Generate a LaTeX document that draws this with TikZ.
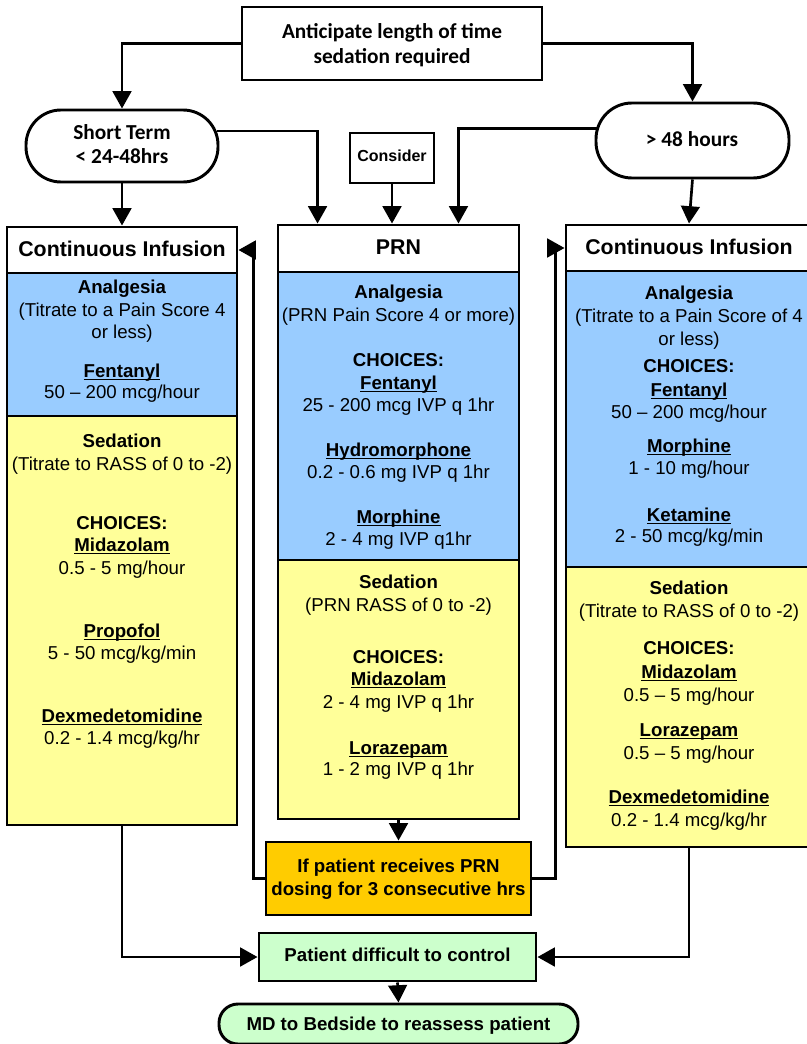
\documentclass[tikz,border=0pt]{standalone}
\usepackage{fontspec}
\setmainfont{Liberation Sans}
\newfontfamily\calib{Carlito}
\usetikzlibrary{arrows.meta,calc}
\newdimen\pxu \pxu=0.75pt
\newcommand\drug[1]{\setbox0\hbox{\textbf{#1}}\rlap{\rule[-2.3pt]{\wd0}{1.1pt}}\box0}
\definecolor{cblue}{HTML}{99CCFF}
\definecolor{cyel}{HTML}{FFFF99}
\definecolor{corg}{HTML}{FFCC00}
\definecolor{cgrn}{HTML}{CCFFCC}
\begin{document}
\begin{tikzpicture}[x=0.75pt,y=-0.75pt,
  box/.style={draw,line width=2.2pt,inner sep=0pt,anchor=center},
  arr/.style={line width=2pt,-{Triangle[length=13pt,width=14pt]}},
  tx/.style={inner sep=0pt,anchor=base,font=\fontsize{14}{16}\selectfont},
  ttl/.style={inner sep=0pt,anchor=base,font=\fontsize{16}{19}\selectfont\bfseries},
  cb/.style={inner sep=0pt,anchor=base,font=\fontsize{16}{19}\selectfont\calib\bfseries}]
\useasboundingbox (0,0) rectangle (806,1044);
% top level boxes
\node[box,minimum width=300\pxu,minimum height=73\pxu] (top) at (392,43.5) {};
\node[box,rounded corners=35\pxu,minimum width=192\pxu,minimum height=72\pxu] (st) at (122,146) {};
\node[box,rounded corners=36\pxu,minimum width=193\pxu,minimum height=75\pxu] (lh) at (692.5,140.5) {};
\node[box,minimum width=84\pxu,minimum height=50\pxu] (cons) at (392,158) {};
% left continuous infusion
\node[box,fill=cyel,minimum width=230\pxu,minimum height=409\pxu] (ciLY) at (122,620.5) {};
\node[box,fill=cblue,minimum width=230\pxu,minimum height=143\pxu] (ciLB) at (122,344.5) {};
\node[box,fill=white,minimum width=230\pxu,minimum height=46\pxu] (ciLT) at (122,250) {};
% PRN
\node[box,fill=cyel,minimum width=241\pxu,minimum height=259\pxu] (prnY) at (398.5,689.5) {};
\node[box,fill=cblue,minimum width=241\pxu,minimum height=288\pxu] (prnB) at (398.5,416) {};
\node[box,fill=white,minimum width=241\pxu,minimum height=47\pxu] (prnT) at (398.5,248.5) {};
% right continuous infusion
\node[box,fill=cyel,minimum width=246\pxu,minimum height=280\pxu] (ciRY) at (689,707) {};
\node[box,fill=cblue,minimum width=246\pxu,minimum height=296\pxu] (ciRB) at (689,419) {};
\node[box,fill=white,minimum width=246\pxu,minimum height=46\pxu] (ciRT) at (689,248) {};
% lower boxes
\node[box,fill=corg,minimum width=265\pxu,minimum height=73\pxu] (orng) at (398.5,878.5) {};
\node[box,fill=cgrn,minimum width=277\pxu,minimum height=48\pxu] (grn) at (397.5,957) {};
\node[box,fill=cgrn,rounded corners=19\pxu,minimum width=359\pxu,minimum height=40\pxu] (fin) at (398.5,1024) {};
% texts of top level
\node[cb] (t1) at (392,39) {Anticipate length of time};
\node[cb] (t2) at (392,64) {sedation required};
\node[cb] (s1) at (122,140) {Short Term};
\node[cb] (s2) at (122,164) {< 24-48hrs};
\node[cb] (h1) at (692,147) {> 48 hours};
\node[inner sep=0pt,anchor=base,font=\fontsize{12}{14}\selectfont\bfseries] (c1) at (392,162) {Consider};
% titles
\node[ttl] (ttlL) at (122,257) {Continuous Infusion};
\node[ttl] (ttlP) at (398.5,255) {PRN};
\node[ttl] (ttlR) at (689,255) {Continuous Infusion};
% left box text
\foreach \y/\t [count=\i] in {288/{\textbf{Analgesia}},311/{(Titrate to a Pain Score 4},333/{or less)},371/{\drug{Fentanyl}},392/{50 – 200 mcg/hour},441/{\textbf{Sedation}},464/{(Titrate to RASS of 0 to -2)},523/{\textbf{CHOICES:}},545/{\drug{Midazolam}},568/{0.5 - 5 mg/hour},631/{\drug{Propofol}},653/{5 - 50 mcg/kg/min},716/{\drug{Dexmedetomidine}},738/{0.2 - 1.4 mcg/kg/hr}}
  \node[tx] (L\i) at (122,\y+6) {\t};
% PRN text
\foreach \y/\t [count=\i] in {293/{\textbf{Analgesia}},316/{(PRN Pain Score 4 or more)},360/{\textbf{CHOICES:}},383/{\drug{Fentanyl}},405/{25 - 200 mcg IVP q 1hr},450/{\drug{Hydromorphone}},472/{0.2 - 0.6 mg IVP q 1hr},517/{\drug{Morphine}},539/{2 - 4 mg IVP q1hr},582/{\textbf{Sedation}},605/{(PRN RASS of 0 to -2)},657/{\textbf{CHOICES:}},679/{\drug{Midazolam}},702/{2 - 4 mg IVP q 1hr},748/{\drug{Lorazepam}},769/{1 - 2 mg IVP q 1hr}}
  \node[tx] (P\i) at (398.5,\y+6) {\t};
% right box text
\foreach \y/\t [count=\i] in {294/{\textbf{Analgesia}},317/{(Titrate to a Pain Score of 4},339/{or less)},367/{\textbf{CHOICES:}},390/{\drug{Fentanyl}},412/{50 – 200 mcg/hour},446/{\drug{Morphine}},468/{1 - 10 mg/hour},515/{\drug{Ketamine}},536/{2 - 50 mcg/kg/min},588/{\textbf{Sedation}},611/{(Titrate to RASS of 0 to -2)},648/{\textbf{CHOICES:}},672/{\drug{Midazolam}},695/{0.5 – 5 mg/hour},730/{\drug{Lorazepam}},753/{0.5 – 5 mg/hour},797/{\drug{Dexmedetomidine}},820/{0.2 - 1.4 mcg/kg/hr}}
  \node[tx] (R\i) at (689,\y+6) {\t};
% lower texts
\node[tx,font=\fontsize{14}{16}\selectfont\bfseries] (o1) at (398.5,872) {If patient receives PRN};
\node[tx,font=\fontsize{14}{16}\selectfont\bfseries] (o2) at (398.5,895) {dosing for 3 consecutive hrs};
\node[tx,font=\fontsize{14}{16}\selectfont\bfseries] (g1) at (397.5,961) {Patient difficult to control};
\node[tx,font=\fontsize{14}{16}\selectfont\bfseries] (f1) at (398.5,1030) {MD to Bedside to reassess patient};
% connectors
\draw[arr] (top.west) -| (st.north);
\draw[arr] (top.east) -| (lh.north);
\draw[arr] (st.south) -- (ciLT.north);
\draw[arr] (lh.south) -- (ciRT.north);
\draw[arr] ([shift={(-2,-15)}]st.east) -| ([shift={(41,0)}]prnT.north west);
\draw[arr] ([shift={(2,-12)}]lh.west) -| ([shift={(-62,0)}]prnT.north east);
\draw[arr] (cons.south) -- (cons.south |- prnT.north);
\draw[arr] (prnY.south) -- (orng.north);
\draw[arr] (orng.west) -- ++(-11,0) |- (ciLT.east);
\draw[arr] (orng.east) -- ++(23,0) |- (ciRT.west);
\draw[arr] (ciLY.south) |- (grn.west);
\draw[arr] (ciRY.south) |- (grn.east);
\draw[arr] (grn.south) -- (fin.north);
\end{tikzpicture}
\end{document}
